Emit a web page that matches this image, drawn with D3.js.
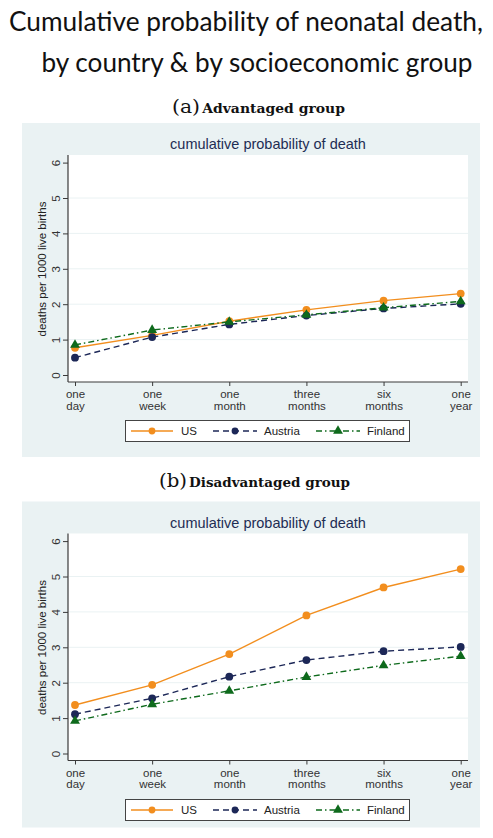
<!DOCTYPE html>
<html>
<head>
<meta charset="utf-8">
<script src="https://cdn.jsdelivr.net/npm/d3@7"></script>
<style>
  html, body { margin: 0; padding: 0; background: #ffffff; }
  svg { display: block; }
</style>
</head>
<body>
<svg id="chart" width="493" height="838"></svg>
<script>
// ---------- data ----------
const periods = ["one day", "one week", "one month", "three months", "six months", "one year"];
const periodLines = [["one", "day"], ["one", "week"], ["one", "month"], ["three", "months"], ["six", "months"], ["one", "year"]];
const yTicks = [0, 1, 2, 3, 4, 5, 6];
const countries = ["US", "Austria", "Finland"];

// (a) Advantaged group
const advUS      = [0.77, 1.12, 1.52, 1.84, 2.10, 2.30];
const advAustria = [0.49, 1.07, 1.43, 1.68, 1.88, 2.01];
const advFinland = [0.85, 1.27, 1.50, 1.70, 1.90, 2.08];

// (b) Disadvantaged group
const disUS      = [1.37, 1.94, 2.81, 3.90, 4.69, 5.21];
const disAustria = [1.11, 1.56, 2.17, 2.64, 2.89, 3.01];
const disFinland = [0.92, 1.39, 1.77, 2.16, 2.49, 2.75];

const headline = ["Cumulative probability of neonatal death,", "by country & by socioeconomic group"];
const panelTitle = "cumulative probability of death";
const yLabel = "deaths per 1000 live births";

// ---------- styles ----------
const styles = {
  US:      { color: "#f28e1e", dash: null,        marker: "circle" },
  Austria: { color: "#1c2757", dash: "6,4",       marker: "circle" },
  Finland: { color: "#0e6a1c", dash: "6,3,1.5,3", marker: "triangle" }
};
const bgColor = "#eaf2f3";
const titleColor = "#1e2d53";
const axisColor = "#3a3a3a";

const svg = d3.select("#chart");

// headline
svg.append("text")
  .attr("x", 246).attr("y", 31)
  .attr("text-anchor", "middle")
  .attr("font-family", "Lato, 'Open Sans', sans-serif")
  .attr("font-size", 26)
  .attr("fill", "#111")
  .attr("textLength", 474).attr("lengthAdjust", "spacingAndGlyphs")
  .text(headline[0]);
svg.append("text")
  .attr("x", 257).attr("y", 72)
  .attr("text-anchor", "middle")
  .attr("font-family", "Lato, 'Open Sans', sans-serif")
  .attr("font-size", 26)
  .attr("fill", "#111")
  .attr("textLength", 431).attr("lengthAdjust", "spacingAndGlyphs")
  .text(headline[1]);

function subTitle(letter, label, x0, x1, baseline) {
  const t = svg.append("text")
    .attr("x", x0).attr("y", baseline)
    .attr("font-family", "'DejaVu Serif', 'Liberation Serif', serif")
    .attr("fill", "#111");
  t.append("tspan").attr("font-size", 19).text("(" + letter + ")");
  t.append("tspan").attr("font-size", 13).attr("font-weight", "bold").attr("dx", 2).text(label);
  // fit to measured span
  const w = t.node().getComputedTextLength();
  t.attr("textLength", x1 - x0).attr("lengthAdjust", "spacingAndGlyphs");
}

function drawPanel(cfg) {
  const g = svg.append("g").attr("transform", `translate(0,${cfg.top})`);
  // background
  g.append("rect").attr("x", 22).attr("y", 0).attr("width", 458).attr("height", cfg.bgHeight)
    .attr("fill", bgColor);
  // plot region
  const plotTop = 32, plotBottom = 259, plotLeft = 68, plotRight = 468;
  g.append("rect").attr("x", plotLeft).attr("y", plotTop)
    .attr("width", plotRight - plotLeft).attr("height", plotBottom - plotTop)
    .attr("fill", "#ffffff");

  const x = d3.scalePoint().domain(periods).range([75, 460.7]);
  const y = d3.scaleLinear().domain([0, 6]).range([252, 39.6]);

  // grid lines
  g.append("g").selectAll("line").data(yTicks.filter(v => v > 0 && v < 6)).join("line")
    .attr("x1", plotLeft + 1).attr("x2", plotRight)
    .attr("y1", d => y(d)).attr("y2", d => y(d))
    .attr("stroke", bgColor).attr("stroke-width", 1);

  // title
  g.append("text").attr("x", 268).attr("y", 26)
    .attr("text-anchor", "middle")
    .attr("font-family", "'Liberation Sans', Arial, sans-serif")
    .attr("font-size", 14.5).attr("fill", titleColor)
    .text(panelTitle);

  // y axis
  const yAxis = d3.axisLeft(y).tickValues(yTicks).tickSize(5).tickFormat(d3.format("d"));
  const ya = g.append("g").attr("transform", `translate(${plotLeft},0)`).call(yAxis);
  ya.select(".domain").attr("d", `M0,${plotTop}V${plotBottom}`).attr("stroke", axisColor).attr("stroke-width", 1.2);
  ya.selectAll(".tick line").attr("stroke", axisColor);
  ya.selectAll(".tick text")
    .attr("font-family", "'Liberation Sans', Arial, sans-serif")
    .attr("font-size", 11.5).attr("fill", "#333")
    .attr("text-anchor", "middle")
    .attr("x", null).attr("dy", null)
    .attr("transform", "translate(-12,0) rotate(-90)")
    .attr("y", 0).attr("dy", "0.35em");

  // y label
  g.append("text")
    .attr("transform", `translate(46,${146}) rotate(-90)`)
    .attr("text-anchor", "middle")
    .attr("font-family", "'Liberation Sans', Arial, sans-serif")
    .attr("font-size", 11.5).attr("fill", "#222")
    .text(yLabel);

  // x axis
  const xAxis = d3.axisBottom(x).tickSize(4).tickFormat("");
  const xa = g.append("g").attr("transform", `translate(0,${plotBottom})`).call(xAxis);
  xa.select(".domain").attr("d", `M${plotLeft},0H${plotRight}`).attr("stroke", axisColor).attr("stroke-width", 1.2);
  xa.selectAll(".tick line").attr("stroke", axisColor);
  xa.selectAll(".tick").each(function(d, i) {
    const t = d3.select(this).append("text")
      .attr("text-anchor", "middle")
      .attr("font-family", "'Liberation Sans', Arial, sans-serif")
      .attr("font-size", 11.5).attr("fill", "#333");
    t.append("tspan").attr("x", 0).attr("y", 16).text(periodLines[i][0]);
    t.append("tspan").attr("x", 0).attr("y", 27.5).text(periodLines[i][1]);
  });

  // series
  const line = d3.line().x((d, i) => x(periods[i])).y(d => y(d));
  const tri = d3.symbol().type(d3.symbolTriangle).size(42);
  cfg.series.forEach(s => {
    const st = styles[s.name];
    g.append("path").datum(s.values)
      .attr("d", line).attr("fill", "none")
      .attr("stroke", st.color).attr("stroke-width", 1.4)
      .attr("stroke-dasharray", st.dash);
    const mg = g.append("g");
    if (st.marker === "circle") {
      mg.selectAll("circle").data(s.values).join("circle")
        .attr("cx", (d, i) => x(periods[i])).attr("cy", d => y(d))
        .attr("r", 3.9).attr("fill", st.color);
    } else {
      mg.selectAll("path").data(s.values).join("path")
        .attr("d", tri)
        .attr("transform", (d, i) => `translate(${x(periods[i])},${y(d)})`)
        .attr("fill", st.color);
    }
  });

  // legend
  const lg = g.append("g").attr("transform", `translate(0,${cfg.legendTop})`);
  lg.append("rect").attr("x", 125.5).attr("y", 0.5).attr("width", 284).attr("height", 21)
    .attr("fill", "#ffffff").attr("stroke", "#444").attr("stroke-width", 1);
  const items = [
    { name: "US", x1: 131, x2: 173, mx: 152, tx: 181 },
    { name: "Austria", x1: 213, x2: 257, mx: 235, tx: 264 },
    { name: "Finland", x1: 316, x2: 360, mx: 338, tx: 367 }
  ];
  items.forEach(it => {
    const st = styles[it.name];
    lg.append("line").attr("x1", it.x1).attr("x2", it.x2).attr("y1", 11).attr("y2", 11)
      .attr("stroke", st.color).attr("stroke-width", 1.3).attr("stroke-dasharray", st.dash);
    if (st.marker === "circle") {
      lg.append("circle").attr("cx", it.mx).attr("cy", 11).attr("r", 3.4).attr("fill", st.color);
    } else {
      lg.append("path").attr("d", tri).attr("transform", `translate(${it.mx},11)`).attr("fill", st.color);
    }
    lg.append("text").attr("x", it.tx).attr("y", 15)
      .attr("font-family", "'Liberation Sans', Arial, sans-serif")
      .attr("font-size", 11.5).attr("fill", "#222")
      .text(it.name);
  });
}

subTitle("a", "Advantaged group", 172, 345, 113);
drawPanel({
  top: 123, bgHeight: 334, legendTop: 297,
  series: [
    { name: "US", values: advUS },
    { name: "Austria", values: advAustria },
    { name: "Finland", values: advFinland }
  ]
});

subTitle("b", "Disadvantaged group", 159, 350, 487);
drawPanel({
  top: 501.5, bgHeight: 326, legendTop: 297.5,
  series: [
    { name: "US", values: disUS },
    { name: "Austria", values: disAustria },
    { name: "Finland", values: disFinland }
  ]
});
</script>
</body>
</html>
